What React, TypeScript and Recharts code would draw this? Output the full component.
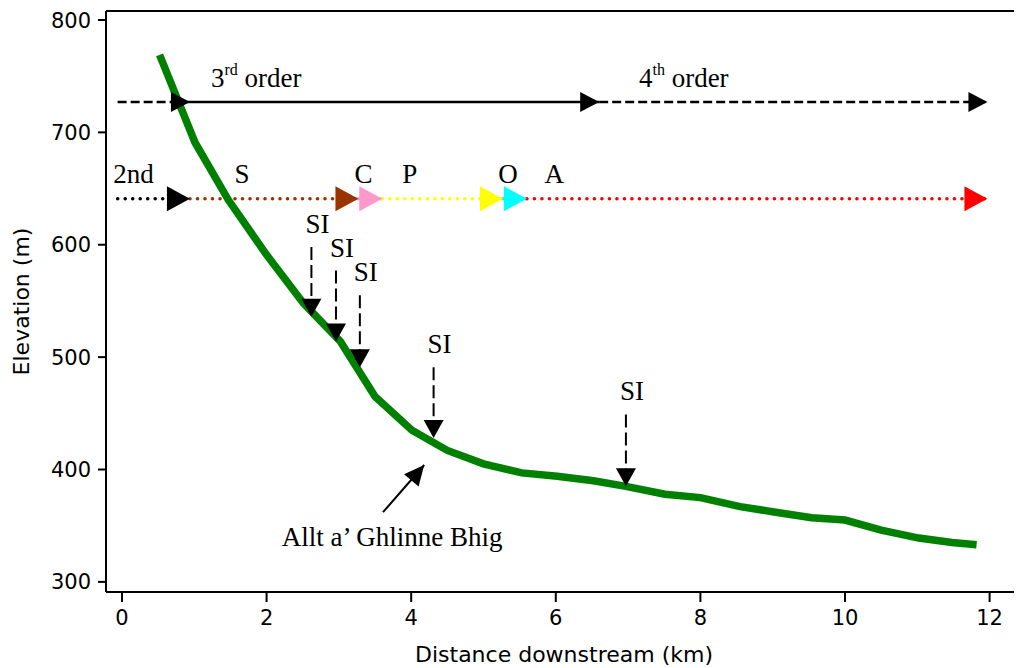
import React from 'react';
import { LineChart, Line, XAxis, YAxis, ReferenceLine, ReferenceDot } from 'recharts';

// long profile of the stream
const distanceKm = [0.52, 1.01, 1.47, 2.0, 2.51, 3.02, 3.5, 4.01, 4.5, 5.0, 5.53, 6.02, 6.52, 6.97, 7.51, 8.0, 8.55, 9.04, 9.54, 10.0, 10.5, 11.02, 11.48, 11.82];
const elevationM = [769, 691, 640, 591, 548, 514, 465, 435, 417, 405, 397, 394, 390, 385, 378, 375, 367, 362, 357, 355, 346, 339, 335, 333];

const xTicks = [0, 2, 4, 6, 8, 10, 12];
const yTicks = [300, 400, 500, 600, 700, 800];

// stream order bar
const orderElev = 727;
const orderBreaksKm = [-0.06, 0.94, 6.6, 11.97];
const orderNumbers = ['3', '4'];
const orderSuffix = ['rd', 'th'];
const orderLabelKm = [1.23, 7.15];
const orderLabelElev = 740;

// reach type bar
const reachElev = 641;
const reachBreaksKm = [-0.06, 0.94, 3.27, 3.6, 5.27, 5.6, 11.97];
const reachLabels = ['2nd', 'S', 'C', 'P', 'O', 'A'];
const reachLabelKm = [0.16, 1.66, 3.34, 3.98, 5.34, 5.98];
const reachLabelElev = 655;

// SI arrows
const siKm = [2.62, 2.96, 3.29, 4.31, 6.97];
const siTopElev = [598, 577, 555, 491, 449];
const siTipElev = [536, 514, 491, 428, 385];

const streamName = 'Allt a\u2019 Ghlinne Bhig';
const streamNameKm = 2.21;
const streamNameElev = 332;
const pointerFrom = { x: 3.61, y: 362 };
const pointerTo = { x: 4.18, y: 404 };

const X_DOMAIN = [-0.221, 12.448];
const Y_DOMAIN = [291, 808];

const REACH_COLORS = ['#000000', '#993300', '#ff99cc', '#ffff00', '#00ffff', '#ff0000'];
const ORDER_DASH = ['9 4', undefined, '9 4'];
const SANS = "'DejaVu Sans', Verdana, sans-serif";
const SERIF = "'Liberation Serif', 'Times New Roman', serif";

const profile = distanceKm.map((km, i) => ({ km, elev: elevationM[i] }));

const rightHead = (len: number, half: number, fill: string) => (p: any) => (
  <path d={`M${p.cx},${p.cy}L${p.cx - len},${p.cy - half}L${p.cx - len},${p.cy + half}Z`} fill={fill} />
);

const downHead = (p: any) => (
  <path d={`M${p.cx},${p.cy}L${p.cx - 10},${p.cy - 18}L${p.cx + 10},${p.cy - 18}Z`} fill="#000" />
);

const pointerHead = (p: any) => (
  <path
    d={`M${p.cx},${p.cy}L${p.cx - 20},${p.cy - 9.5}L${p.cx - 20},${p.cy + 9.5}Z`}
    fill="#000"
    transform={`rotate(-50 ${p.cx} ${p.cy})`}
  />
);

const serifText = (text: string, anchor: string, dx = 0, dy = 0) => (p: any) => (
  <text x={p.cx + dx} y={p.cy + dy} textAnchor={anchor} fontFamily={SERIF} fontSize={27} fill="#000">
    {text}
  </text>
);

const orderText = (num: string, sup: string) => (p: any) => (
  <text x={p.cx} y={p.cy} fontFamily={SERIF} fontSize={27} fill="#000" style={{ whiteSpace: 'pre' }}>
    {num}
    <tspan fontSize={16} dy={-12}>{sup}</tspan>
    <tspan dy={12}>{' order'}</tspan>
  </text>
);

const App = () => {
  return (
    <div style={{ width: 1014, height: 660 }}>
      <LineChart width={1014} height={660} data={profile} margin={{ top: 3, right: 0, bottom: 0, left: 0 }}>
        <XAxis
          type="number"
          dataKey="km"
          domain={X_DOMAIN}
          allowDataOverflow
          ticks={xTicks}
          height={76}
          tickSize={10}
          tickMargin={8}
          axisLine={{ stroke: '#000', strokeWidth: 2 }}
          tickLine={{ stroke: '#000', strokeWidth: 2 }}
          tick={{ fill: '#000', fontSize: 21, fontFamily: SANS }}
          label={{ value: 'Distance downstream (km)', position: 'insideBottom', offset: 6, fill: '#000', fontSize: 22, fontFamily: SANS }}
        />
        <YAxis
          type="number"
          domain={Y_DOMAIN}
          allowDataOverflow
          ticks={yTicks}
          width={98}
          tickSize={8}
          tickMargin={7}
          axisLine={{ stroke: '#000', strokeWidth: 2 }}
          tickLine={{ stroke: '#000', strokeWidth: 2 }}
          tick={{ fill: '#000', fontSize: 21, fontFamily: SANS }}
          label={{
            value: 'Elevation (m)',
            angle: -90,
            position: 'insideLeft',
            offset: 13,
            fill: '#000',
            fontSize: 22,
            fontFamily: SANS,
            style: { textAnchor: 'middle' },
          }}
        />

        {/* top frame */}
        <ReferenceLine y={Y_DOMAIN[1]} stroke="#000" strokeWidth={2} ifOverflow="visible" />

        {orderBreaksKm.slice(1).map((end, i) => (
          <ReferenceLine
            key={`ord-${i}`}
            segment={[{ x: orderBreaksKm[i], y: orderElev }, { x: end, y: orderElev }]}
            stroke="#000"
            strokeWidth={2.5}
            strokeDasharray={ORDER_DASH[i]}
            ifOverflow="visible"
          />
        ))}

        {reachBreaksKm.slice(1).map((end, i) => (
          <ReferenceLine
            key={`reach-${i}`}
            segment={[{ x: reachBreaksKm[i], y: reachElev }, { x: end, y: reachElev }]}
            stroke={REACH_COLORS[i]}
            strokeWidth={3.5}
            strokeDasharray="0.1 7.4"
            strokeLinecap="round"
            ifOverflow="visible"
          />
        ))}

        {siKm.map((km, i) => (
          <ReferenceLine
            key={`si-${i}`}
            segment={[{ x: km, y: siTopElev[i] }, { x: km, y: siTipElev[i] }]}
            stroke="#000"
            strokeWidth={2}
            strokeDasharray="13 5"
            ifOverflow="visible"
          />
        ))}

        <ReferenceLine segment={[pointerFrom, pointerTo]} stroke="#000" strokeWidth={2} ifOverflow="visible" />

        <Line
          dataKey="elev"
          type="linear"
          stroke="#008000"
          strokeWidth={7.5}
          dot={false}
          activeDot={false}
          isAnimationActive={false}
        />

        {orderBreaksKm.slice(1).map((km, i) => (
          <ReferenceDot key={`ordh-${i}`} x={km} y={orderElev} r={0} ifOverflow="visible" shape={rightHead(19, 10, '#000')} />
        ))}
        {reachBreaksKm.slice(1).map((km, i) => (
          <ReferenceDot
            key={`reachh-${i}`}
            x={km}
            y={reachElev}
            r={0}
            ifOverflow="visible"
            shape={rightHead(23, 12.5, REACH_COLORS[i])}
          />
        ))}
        {siKm.map((km, i) => (
          <ReferenceDot key={`sih-${i}`} x={km} y={siTipElev[i]} r={0} ifOverflow="visible" shape={downHead} />
        ))}
        {siKm.map((km, i) => (
          <ReferenceDot
            key={`sil-${i}`}
            x={km}
            y={siTopElev[i]}
            r={0}
            ifOverflow="visible"
            shape={serifText('SI', 'middle', 6, -14)}
          />
        ))}
        <ReferenceDot x={pointerTo.x} y={pointerTo.y} r={0} ifOverflow="visible" shape={pointerHead} />

        {orderNumbers.map((num, i) => (
          <ReferenceDot
            key={`ordl-${i}`}
            x={orderLabelKm[i]}
            y={orderLabelElev}
            r={0}
            ifOverflow="visible"
            shape={orderText(num, orderSuffix[i])}
          />
        ))}
        {reachLabels.map((name, i) => (
          <ReferenceDot
            key={`reachl-${i}`}
            x={reachLabelKm[i]}
            y={reachLabelElev}
            r={0}
            ifOverflow="visible"
            shape={serifText(name, 'middle')}
          />
        ))}
        <ReferenceDot
          x={streamNameKm}
          y={streamNameElev}
          r={0}
          ifOverflow="visible"
          shape={serifText(streamName, 'start')}
        />
      </LineChart>
    </div>
  );
};

export default App;
